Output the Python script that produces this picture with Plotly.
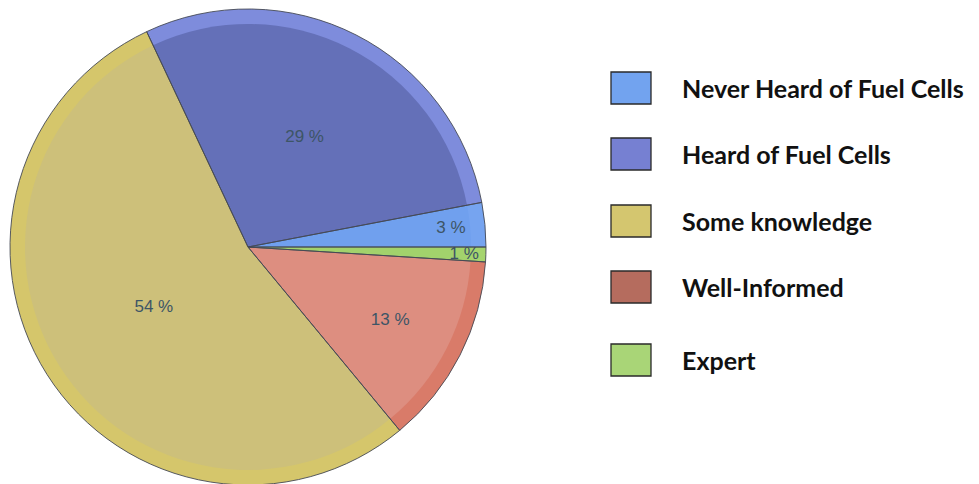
import plotly.graph_objects as go

categories = ['Never Heard of Fuel Cells', 'Heard of Fuel Cells', 'Some knowledge',
              'Well-Informed', 'Expert']
shares = [3, 29, 54, 13, 1]
pct_labels = ['3 %', '29 %', '54 %', '13 %', '1 %']

# body / rim / legend swatch colours
body_colors = ['#70a0ee', '#6470b8', '#cdc07a', '#dd8e80', '#a2d26c']
rim_colors = ['#76a4f0', '#7e8cdc', '#d5c66b', '#d97b69', '#a5d46e']
swatch_colors = ['#72a3ef', '#7680d2', '#d4c66f', '#b56c5e', '#a9d577']

W, H = 979, 484
OFF = 8  # page body margin pushes the plot right/down
def px_x(v):
    return (v - OFF) / W
def px_y(v):
    return 1 - (v - OFF) / H

# pie spans x 10..486, y 9..485 in the window
cx, cy, R = 248, 247, 238
rim = 15
start = 90 - 360 * shares[0] / sum(shares)

common = dict(labels=categories, values=shares, sort=False,
              direction='counterclockwise', rotation=start, showlegend=False)

# outer ring look
fig = go.Figure()
fig.add_trace(go.Pie(
    marker=dict(colors=rim_colors, line=dict(width=0)),
    textinfo='none', hoverinfo='skip',
    domain=dict(x=[px_x(cx - R), px_x(cx + R)], y=[px_y(cy + R), px_y(cy - R)]),
    **common))
# main body with labels
r2 = R - rim
fig.add_trace(go.Pie(
    marker=dict(colors=body_colors, line=dict(width=0)),
    text=pct_labels, textinfo='text', textposition='inside',
    insidetextorientation='horizontal',
    textfont=dict(family='Liberation Sans, Arial', size=17, color='#3d5566'),
    domain=dict(x=[px_x(cx - r2), px_x(cx + r2)], y=[px_y(cy + r2), px_y(cy - r2)]),
    **common))
# outlines on top
fig.add_trace(go.Pie(
    marker=dict(colors=['rgba(0,0,0,0)'] * len(shares),
                line=dict(color='#454a55', width=0.9)),
    textinfo='none', hoverinfo='skip',
    domain=dict(x=[px_x(cx - R), px_x(cx + R)], y=[px_y(cy + R), px_y(cy - R)]),
    **common))

# hand-drawn legend with big swatches
legend_y = [88, 154, 221, 287, 360]
for name, col, ly in zip(categories, swatch_colors, legend_y):
    fig.add_shape(type='rect', xref='paper', yref='paper',
                  x0=px_x(611), x1=px_x(651), y0=px_y(ly + 16), y1=px_y(ly - 16),
                  fillcolor=col, line=dict(color='#2a2a2a', width=1.3))
    fig.add_annotation(x=px_x(680), y=px_y(ly), xref='paper', yref='paper',
                       text='<b>%s</b>' % name, showarrow=False,
                       xanchor='left', yanchor='middle',
                       font=dict(family='Lato', size=25, color='#111111'))

fig.update_layout(
    width=W, height=H,
    margin=dict(l=0, r=0, t=0, b=0),
    paper_bgcolor='white', plot_bgcolor='white',
    uniformtext=dict(minsize=17, mode='show'),
)

fig.write_html('out.html')
